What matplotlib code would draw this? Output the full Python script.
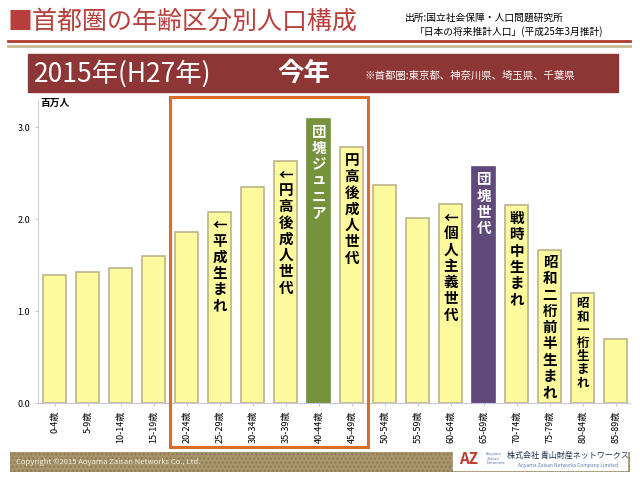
import matplotlib.pyplot as plt
from matplotlib.patches import Rectangle
import matplotlib.transforms as mtransforms

plt.rcParams['font.family'] = ['Noto Sans CJK JP', 'DejaVu Sans']

ages = ['0-4歳', '5-9歳', '10-14歳', '15-19歳', '20-24歳', '25-29歳', '30-34歳',
        '35-39歳', '40-44歳', '45-49歳', '50-54歳', '55-59歳', '60-64歳', '65-69歳',
        '70-74歳', '75-79歳', '80-84歳', '85-89歳']
pop = [1.39, 1.43, 1.47, 1.60, 1.86, 2.08, 2.35, 2.63, 3.09, 2.78,
       2.37, 2.01, 2.16, 2.57, 2.15, 1.67, 1.20, 0.70]

# generation labels: bar index -> text
gen_labels = {5: '←平成生まれ', 7: '←円高後成人世代', 8: '団塊ジュニア', 9: '円高後成人世代',
              12: '←個人主義世代', 13: '団塊世代', 14: '戦時中生まれ',
              15: '昭和二桁前半生まれ', 16: '昭和一桁生まれ'}

yellow = '#fdfa9e'
colors = [yellow] * len(ages)
colors[8] = '#76923c'
colors[13] = '#604a7b'
edges = ['#bdb38a'] * len(ages)
edges[8] = '#76923c'
edges[13] = '#604a7b'

fig = plt.figure(figsize=(6.4, 4.8), dpi=100)

# title area
fig.text(0.012, 0.955, '■首都圏の年齢区分別人口構成', fontsize=18, color='#b8403c',
         va='center', ha='left')
fig.text(0.633, 0.963, '出所:国立社会保障・人口問題研究所', fontsize=7, va='center')
fig.text(0.648, 0.935, '「日本の将来推計人口」(平成25年3月推計)', fontsize=7, va='center')
fig.add_artist(plt.Line2D([0.012, 0.985], [0.914, 0.914], color='#b03a2e', lw=2))
fig.add_artist(plt.Line2D([0.012, 0.985], [0.905, 0.905], color='#c9b98e', lw=2))

# banner
fig.add_artist(Rectangle((0.044, 0.808), 0.922, 0.08, color='#8e3535'))
fig.text(0.053, 0.847, '2015年(H27年)', fontsize=19, color='white', va='center')
fig.text(0.433, 0.847, '今年', fontsize=19, color='white', va='center', fontweight='bold')
fig.text(0.57, 0.842, '※首都圏:東京都、神奈川県、埼玉県、千葉県', fontsize=7.5,
         color='white', va='center')

ax = fig.add_axes([0.059, 0.160, 0.925, 0.6325])
x = range(len(ages))
ax.bar(x, pop, width=0.7, color=colors, edgecolor=edges, linewidth=1.2, zorder=2)
ax.set_xlim(-0.52, 17.42)
ax.set_ylim(0, 3.3)
ax.set_yticks([0, 1, 2, 3])
ax.set_yticklabels(['0.0', '1.0', '2.0', '3.0'], fontsize=6.5)
ax.set_xticks(list(x))
ax.set_xticklabels(ages, rotation=90, fontsize=6.5)
ax.tick_params(axis='y', length=2, color='#c8c8d8')
ax.tick_params(axis='x', length=2, color='#c8c8d8')
for s in ['top', 'right']:
    ax.spines[s].set_visible(False)
ax.spines['left'].set_color('#d0d0d8')
ax.spines['bottom'].set_color('#c8c8dc')
ax.text(0.005, 3.26, '百万人', fontsize=7, fontweight='bold', transform=ax.get_yaxis_transform(),
        va='center')

for i, lab in gen_labels.items():
    col = 'white' if i in (8, 13) else 'black'
    fs = 9 if i == 16 else 10.5
    ax.text(i, pop[i] - 0.05, '\n'.join(lab), ha='center', va='top', fontsize=fs,
            fontweight='bold', color=col, linespacing=1.02, zorder=3)

# orange frame around 20-49
trans = mtransforms.blended_transform_factory(ax.transData, fig.transFigure)
ax.add_patch(Rectangle((3.5, 0.069), 6.0, 0.729, transform=trans, fill=False,
                       edgecolor='#dc6d26', lw=2.2, clip_on=False, zorder=4))

# footer
fig.add_artist(Rectangle((0.016, 0.017), 0.968, 0.042, color='#a8946a', hatch='....',
                         ec='#8d7a52', lw=0))
fig.text(0.025, 0.038, 'Copyright ©2015 Aoyama Zaisan Networks Co., Ltd.', fontsize=5.5,
         color='#f2eee0', va='center')
fig.add_artist(Rectangle((0.708, 0.02), 0.272, 0.048, color='white'))
fig.text(0.733, 0.044, 'AZ', fontsize=11, color='#c0392b', style='italic', va='center',
         ha='center', fontweight='bold')
fig.text(0.76, 0.044, 'Aoyama\nZaisan\nNetworks', fontsize=3, color='#5577aa', va='center')
fig.text(0.888, 0.052, '株式会社 青山財産ネットワークス', fontsize=5.8, color='#1f3050',
         va='center', ha='center')
fig.text(0.888, 0.031, 'Aoyama Zaisan Networks Company Limited', fontsize=3.5,
         color='#5577aa', va='center', ha='center')

fig.savefig('out.png', dpi=100)
